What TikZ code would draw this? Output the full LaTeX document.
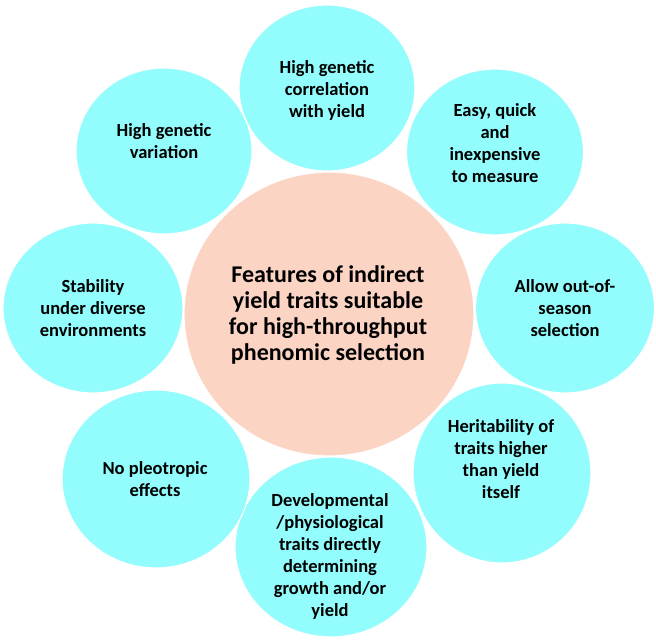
\documentclass[tikz,border=0pt]{standalone}
\usepackage{fontspec}
\setmainfont{Carlito}
\usetikzlibrary{shapes.geometric}
\definecolor{cyanfill}{RGB}{147,252,252}
\definecolor{peach}{RGB}{251,212,196}
\begin{document}
\begin{tikzpicture}[x=1pt,y=-1pt,
  bub/.style={ellipse, fill=cyanfill, draw=white, line width=1.2pt, inner sep=0pt},
  hub/.style={ellipse, fill=peach, draw=white, line width=1.2pt, inner sep=0pt},
  lab/.style={align=center, font=\fontsize{18.5}{22}\selectfont\bfseries, inner sep=0pt, text=black},
  hublab/.style={align=center, font=\fontsize{24}{26}\selectfont\bfseries, inner sep=0pt, text=black}]
\useasboundingbox (0,0) rectangle (656,641);
\fill[white] (0,0) rectangle (656,641);
% centre
\node[hub, minimum width=290pt, minimum height=284pt] (c) at (329,314) {};
% outer bubbles
\node[bub, minimum width=176pt, minimum height=166pt] (b1) at (327,88) {};
\node[bub, minimum width=177pt, minimum height=166pt] (b2) at (495,152) {};
\node[bub, minimum width=179pt, minimum height=170pt] (b3) at (565,308) {};
\node[bub, minimum width=178pt, minimum height=180pt] (b4) at (502,473) {};
\node[bub, minimum width=192pt, minimum height=180pt] (b5) at (331,547) {};
\node[bub, minimum width=188pt, minimum height=178pt] (b6) at (156,479) {};
\node[bub, minimum width=180pt, minimum height=170pt] (b7) at (93,308) {};
\node[bub, minimum width=176pt, minimum height=166pt] (b8) at (164,151) {};
% labels
\node[hublab] (lc) at (328,315) {Features of indirect\\yield traits suitable\\for high-throughput\\phenomic selection};
\node[lab] (l1) at (327,90) {High genetic\\correlation\\with yield};
\node[lab] (l2) at (495,143) {Easy, quick\\and\\inexpensive\\to measure};
\node[lab] (l3) at (565,308) {Allow out-of-\\season\\selection};
\node[lab] (l4) at (501,459) {Heritability of\\traits higher\\than yield\\itself};
\node[lab] (l5) at (330,556) {Developmental\\/physiological\\traits directly\\determining\\growth and/or\\yield};
\node[lab] (l6) at (155,479) {No pleotropic\\effects};
\node[lab] (l7) at (93,308) {Stability\\under diverse\\environments};
\node[lab] (l8) at (164,141) {High genetic\\variation};
\end{tikzpicture}
\end{document}
